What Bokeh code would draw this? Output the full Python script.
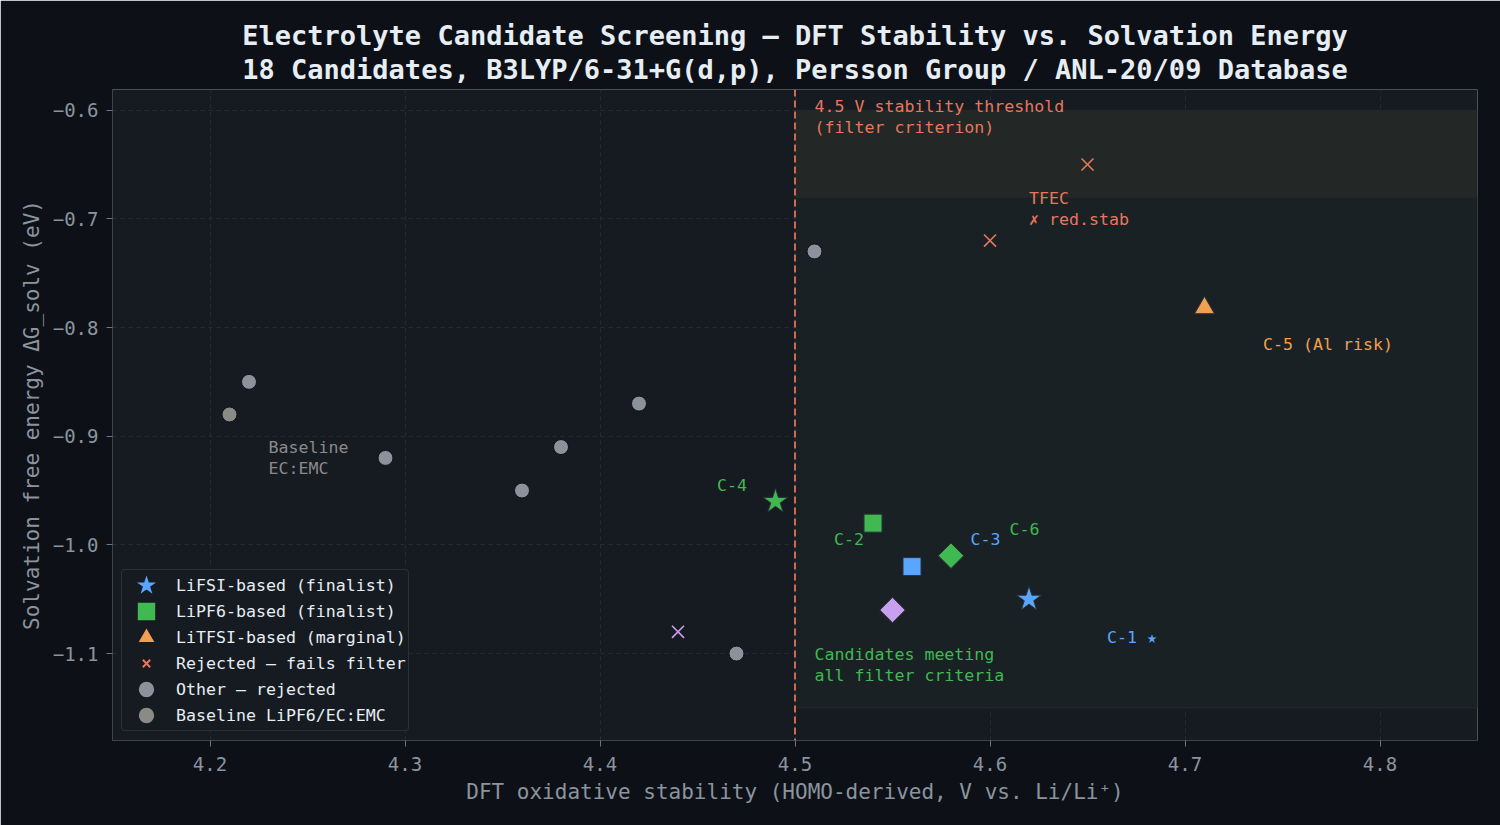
from bokeh.plotting import figure
from bokeh.models import (ColumnDataSource, Span, Label, Legend, LegendItem, Title,
                          FixedTicker, BoxAnnotation, Range1d)
from bokeh.embed import file_html
from bokeh.resources import INLINE

# ---------------- data ----------------
lifsi_x = [4.62, 4.49]
lifsi_y = [-1.05, -0.96]
lifsi_c = ["#58a6ff", "#3fb950"]

lipf6_x = [4.54, 4.56]
lipf6_y = [-0.98, -1.02]
lipf6_c = ["#3fb950", "#58a6ff"]

litfsi_x = [4.71]
litfsi_y = [-0.782]
litfsi_c = ["#f0a050"]

rej_x = [4.65, 4.60, 4.44]
rej_y = [-0.65, -0.72, -1.08]
rej_c = ["#e8765c", "#e8765c", "#c9a0f0"]

other_x = [4.22, 4.29, 4.36, 4.38, 4.42, 4.47, 4.51]
other_y = [-0.85, -0.92, -0.95, -0.91, -0.87, -1.10, -0.73]

base_x = [4.21]
base_y = [-0.88]

dia_x = [4.58, 4.55]
dia_y = [-1.01, -1.06]
dia_c = ["#3fb950", "#c9a0f0"]

x_ticks = [4.2, 4.3, 4.4, 4.5, 4.6, 4.7, 4.8]
y_ticks = [-0.6, -0.7, -0.8, -0.9, -1.0, -1.1]

threshold = 4.5

MONO = "DejaVu Sans Mono"
BG = "#0d1117"
PBG = "#161b22"

p = figure(width=1500, height=825, output_backend="svg", toolbar_location=None,
           x_range=Range1d(4.15, 4.85), y_range=Range1d(-1.18, -0.581),
           background_fill_color=PBG, border_fill_color=BG,
           min_border_left=112, min_border_right=23, min_border_top=89, min_border_bottom=85)
p.outline_line_color = None

# title (two lines)
p.title = Title(text="Electrolyte Candidate Screening \u2014 DFT Stability vs. Solvation Energy\n"
                     "18 Candidates, B3LYP/6-31+G(d,p), Persson Group / ANL-20/09 Database",
                align="center", text_font=MONO, text_font_size="27px", text_font_style="bold",
                text_color="#e6edf3", standoff=8, text_line_height=1.1)

# shaded regions
p.add_layout(BoxAnnotation(left=threshold, right=4.85, bottom=-1.15, top=-0.68,
                           fill_color="#1a2125", fill_alpha=1.0, line_color="#22302a",
                           line_alpha=0.8, line_width=1, level="underlay"))
p.add_layout(BoxAnnotation(left=threshold, right=4.85, bottom=-0.68, top=-0.6,
                           fill_color="#232726", fill_alpha=1.0, line_color="#2e3230",
                           line_width=1, level="underlay"))

# axes / grid
for ax in (p.xaxis, p.yaxis):
    ax.axis_line_color = "#3d434b"
    ax.major_tick_line_color = "#6e7681"
    ax.major_tick_out = 6
    ax.major_tick_in = 0
    ax.minor_tick_line_color = None
    ax.major_label_text_font = MONO
    ax.major_label_text_font_size = "19px"
    ax.major_label_text_color = "#8b949e"
    ax.axis_label_text_font = MONO
    ax.axis_label_text_font_size = "21px"
    ax.axis_label_text_font_style = "normal"
    ax.axis_label_text_color = "#8b949e"

p.xaxis.ticker = FixedTicker(ticks=x_ticks)
p.yaxis.ticker = FixedTicker(ticks=y_ticks)
p.xaxis.major_label_overrides = {t: f"{t:.1f}" for t in x_ticks}
p.yaxis.major_label_overrides = {t: f"{t:.1f}".replace("-", "\u2212") for t in y_ticks}
p.xaxis.axis_label = "DFT oxidative stability (HOMO-derived, V vs. Li/Li\u207a)"
p.yaxis.axis_label = "Solvation free energy \u0394G_solv (eV)"
p.xaxis.major_label_standoff = 10
p.yaxis.major_label_standoff = 8
p.xaxis.axis_label_standoff = 6
p.yaxis.axis_label_standoff = 6

p.grid.grid_line_color = "#2a3038"
p.grid.grid_line_dash = "4 4"
p.grid.grid_line_alpha = 0.8

# threshold line
p.add_layout(Span(location=threshold, dimension="height", line_color="#d2694e",
                  line_width=2, line_dash="7 4"))

EDGE = "#0d1117"
MEDGE = "#2b3038"

s_other = ColumnDataSource(dict(x=other_x, y=other_y))
p.scatter("x", "y", source=s_other, marker="circle", size=15,
          fill_color="#8b929c", line_color=EDGE, line_width=1)
s_base = ColumnDataSource(dict(x=base_x, y=base_y))
p.scatter("x", "y", source=s_base, marker="circle", size=15,
          fill_color="#8a8a86", line_color=EDGE, line_width=1)

s_rej = ColumnDataSource(dict(x=rej_x, y=rej_y, c=rej_c))
p.scatter("x", "y", source=s_rej, marker="x", size=17, line_color="c", line_width=1.6)

s_dia = ColumnDataSource(dict(x=dia_x, y=dia_y, c=dia_c))
p.scatter("x", "y", source=s_dia, marker="square", size=18, angle=0.7854,
          fill_color="c", line_color=MEDGE, line_width=1)

s_pf6 = ColumnDataSource(dict(x=lipf6_x, y=lipf6_y, c=lipf6_c))
p.scatter("x", "y", source=s_pf6, marker="square", size=18,
          fill_color="c", line_color=MEDGE, line_width=1)

s_tfsi = ColumnDataSource(dict(x=litfsi_x, y=litfsi_y, c=litfsi_c))
p.scatter("x", "y", source=s_tfsi, marker="triangle", size=20,
          fill_color="c", line_color=MEDGE, line_width=1)

s_fsi = ColumnDataSource(dict(x=lifsi_x, y=lifsi_y, c=lifsi_c))
p.scatter("x", "y", source=s_fsi, marker="star", size=26,
          fill_color="c", line_color=MEDGE, line_width=1)

# legend proxies (hidden renderers drawn only in the legend, with thick same-colour
# outlines so that the legend symbols are as large as in the reference)
lg_fsi = p.scatter("x", "y", source=s_fsi, marker="star", size=10, fill_color="c",
                   line_color="c", line_width=3, line_join="miter", visible=False)
lg_pf6 = p.scatter("x", "y", source=s_pf6, marker="square", size=10, fill_color="c",
                   line_color="c", line_width=7, line_join="miter", visible=False)
lg_tfsi = p.scatter("x", "y", source=s_tfsi, marker="triangle", size=10, fill_color="c",
                    line_color="c", line_width=3, line_join="miter", visible=False)
lg_rej = p.scatter("x", "y", source=s_rej, marker="x", size=10, line_color="c",
                   line_width=2, visible=False)
lg_other = p.scatter("x", "y", source=s_other, marker="circle", size=10,
                     fill_color="#8b929c", line_color="#8b929c", line_width=5, visible=False)
lg_base = p.scatter("x", "y", source=s_base, marker="circle", size=10,
                    fill_color="#8a8a86", line_color="#8a8a86", line_width=5, visible=False)

# annotations
def lab(x, y, text, color, baseline="top"):
    p.add_layout(Label(x=x, y=y, text=text, text_color=color, text_font=MONO,
                       text_font_size="16.6px", text_baseline=baseline, text_align="left",
                       text_line_height=1.1))

lab(4.51, -0.588, "4.5 V stability threshold\n(filter criterion)", "#e8765c")
lab(4.62, -0.673, "TFEC\n\u2717 red.stab", "#e8765c")
lab(4.74, -0.816, "C-5 (Al risk)", "#f0a050", "middle")
lab(4.46, -0.945, "C-4", "#3fb950", "middle")
lab(4.52, -0.995, "C-2", "#3fb950", "middle")
lab(4.59, -0.995, "C-3", "#58a6ff", "middle")
lab(4.61, -0.986, "C-6", "#3fb950", "middle")
lab(4.66, -1.085, "C-1 \u2605", "#58a6ff", "middle")
lab(4.51, -1.092, "Candidates meeting\nall filter criteria", "#3fb950")
lab(4.23, -0.902, "Baseline\nEC:EMC", "#8a8a8a")

legend = Legend(items=[
    LegendItem(label="LiFSI-based (finalist)", renderers=[lg_fsi], index=0),
    LegendItem(label="LiPF6-based (finalist)", renderers=[lg_pf6], index=0),
    LegendItem(label="LiTFSI-based (marginal)", renderers=[lg_tfsi], index=0),
    LegendItem(label="Rejected \u2014 fails filter", renderers=[lg_rej], index=0),
    LegendItem(label="Other \u2014 rejected", renderers=[lg_other], index=0),
    LegendItem(label="Baseline LiPF6/EC:EMC", renderers=[lg_base], index=0),
], location="bottom_left", click_policy="none")
legend.background_fill_color = PBG
legend.background_fill_alpha = 0.95
legend.border_line_color = "#3d434b"
legend.border_line_width = 1.5
legend.border_radius = 4
legend.label_text_font = MONO
legend.label_text_font_size = "16.6px"
legend.label_text_color = "#e6edf3"
legend.glyph_width = 44
legend.glyph_height = 26
legend.label_height = 26
legend.spacing = 0
legend.padding = 2
legend.margin = 9
legend.label_standoff = 8
p.add_layout(legend)

open("out.html", "w").write(file_html(p, INLINE))
